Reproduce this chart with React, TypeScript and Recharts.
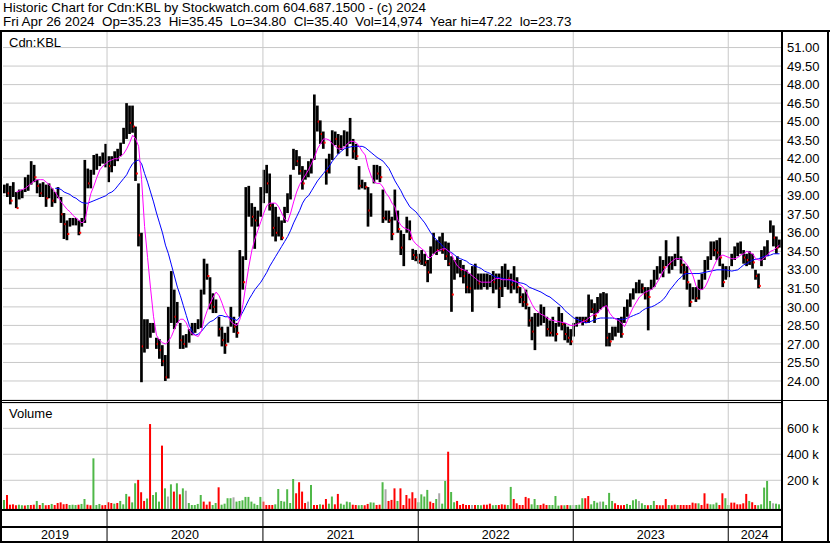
import React from "react";
import {
  Bar,
  CartesianGrid,
  Cell,
  ComposedChart,
  Line,
  ReferenceLine,
  XAxis,
  YAxis,
} from "recharts";

// weekly bars, Apr 29 2019 .. Apr 22 2024
const HI = [
  39.9, 40.0, 39.8, 40.1, 39.3, 39.5, 39.5, 40.5, 40.7, 41.8,
  41.5, 40.3, 40.0, 40.1, 39.9, 40.0, 39.6, 39.3, 39.7, 38.9,
  37.6, 37.0, 37.2, 37.2, 37.2, 37.0, 37.2, 41.9, 41.2, 41.1,
  42.3, 42.4, 42.2, 42.5, 43.2, 42.2, 42.2, 42.6, 42.8, 43.3,
  44.5, 46.5, 46.3, 46.3, 44.6, 40.0, 36.0, 29.0, 29.0, 28.7,
  28.7, 27.5, 27.4, 26.9, 26.1, 30.0, 32.9, 31.4, 30.4, 28.7,
  27.7, 27.8, 28.2, 28.7, 28.7, 29.0, 31.4, 33.9, 33.5, 32.4,
  31.1, 30.6, 29.2, 28.4, 27.9, 28.4, 30.0, 29.2, 28.7, 34.6,
  34.1, 39.7, 39.8, 38.4, 38.1, 37.8, 39.7, 41.1, 41.5, 40.8,
  38.4, 38.1, 37.3, 37.0, 38.1, 39.2, 40.7, 42.8, 42.7, 42.2,
  41.4, 41.1, 41.8, 42.0, 47.2, 46.3, 45.1, 44.2, 42.0, 42.4,
  44.3, 44.2, 44.0, 43.9, 44.3, 44.2, 45.3, 43.6, 43.2, 41.4,
  40.3, 40.1, 39.7, 39.2, 41.5, 41.5, 41.4, 39.5, 37.8, 37.8,
  37.3, 39.5, 37.8, 36.2, 35.9, 37.3, 37.0, 34.7, 34.6, 34.3,
  34.6, 34.3, 33.8, 34.9, 36.0, 35.4, 35.7, 36.0, 35.3, 35.2,
  34.1, 33.8, 34.1, 33.8, 33.4, 33.0, 32.7, 33.3, 33.5, 32.7,
  32.7, 32.7, 32.7, 32.6, 32.9, 32.7, 32.7, 33.3, 33.5, 33.0,
  32.7, 33.3, 32.4, 31.6, 31.1, 31.4, 30.0, 29.2, 29.5, 29.5,
  30.2, 30.0, 29.2, 28.9, 29.2, 28.7, 30.0, 29.5, 28.7, 28.4,
  28.2, 28.7, 29.2, 29.2, 29.2, 29.2, 31.0, 30.6, 30.3, 30.8,
  31.1, 31.2, 31.1, 27.9, 28.4, 28.4, 29.1, 29.2, 30.0, 30.6,
  31.1, 31.5, 32.0, 32.2, 31.9, 31.6, 31.6, 32.2, 33.0, 33.3,
  34.1, 33.8, 35.4, 34.1, 34.1, 34.3, 35.7, 34.1, 33.5, 33.3,
  31.9, 31.6, 31.6, 32.2, 32.7, 33.8, 34.1, 35.3, 35.3, 35.4,
  35.6, 33.5, 33.3, 33.3, 34.3, 34.9, 35.2, 35.3, 34.6, 34.3,
  34.5, 34.3, 33.0, 32.7, 34.6, 34.9, 35.4, 37.0, 36.6, 35.7,
  35.45,
];

const LO = [
  39.2, 38.9, 38.3, 38.9, 38.0, 38.7, 38.8, 39.3, 39.4, 39.9,
  40.1, 39.2, 38.9, 38.9, 38.1, 38.8, 38.1, 38.4, 38.8, 36.8,
  35.5, 35.4, 36.5, 36.6, 36.6, 35.8, 36.5, 36.8, 39.6, 39.6,
  40.7, 41.1, 41.4, 41.6, 41.3, 40.1, 40.9, 41.4, 41.8, 42.2,
  43.2, 43.6, 44.0, 44.1, 40.2, 34.9, 23.9, 26.3, 26.6, 27.5,
  27.9, 26.6, 25.8, 25.2, 24.0, 24.2, 28.7, 28.2, 28.7, 26.6,
  26.6, 26.7, 27.1, 27.7, 27.9, 28.2, 28.3, 31.0, 32.2, 29.8,
  29.5, 29.5, 27.6, 26.8, 26.2, 27.1, 28.4, 27.9, 27.5, 29.2,
  31.4, 33.8, 37.3, 36.5, 34.7, 36.5, 37.3, 38.4, 39.2, 37.8,
  35.7, 35.3, 35.7, 35.4, 36.8, 37.6, 38.7, 41.1, 41.4, 40.7,
  39.5, 40.3, 40.5, 40.8, 41.9, 44.2, 43.2, 42.8, 39.9, 40.8,
  41.9, 43.1, 42.4, 42.7, 43.0, 42.2, 43.2, 42.0, 41.9, 39.5,
  39.6, 39.5, 36.5, 37.3, 40.0, 40.3, 40.1, 36.8, 37.0, 36.8,
  35.4, 37.0, 36.0, 34.2, 33.3, 36.0, 35.4, 33.8, 33.7, 33.5,
  33.4, 33.3, 32.0, 32.7, 34.3, 34.2, 34.5, 34.3, 33.8, 33.3,
  29.6, 32.2, 32.7, 32.4, 31.9, 31.1, 31.1, 29.6, 31.4, 31.4,
  31.4, 31.6, 31.4, 31.6, 31.1, 31.4, 29.9, 30.8, 31.6, 31.4,
  31.1, 31.4, 31.1, 30.3, 30.0, 29.8, 28.4, 27.3, 26.5, 28.4,
  28.5, 28.7, 27.6, 27.6, 27.6, 27.2, 28.4, 28.1, 27.3, 27.1,
  26.9, 27.6, 28.4, 28.7, 28.5, 28.7, 28.7, 29.5, 28.7, 29.5,
  29.8, 30.0, 26.8, 26.8, 27.3, 27.6, 27.9, 27.5, 28.7, 29.2,
  30.0, 30.6, 31.1, 31.1, 31.1, 30.6, 28.1, 31.4, 31.6, 32.2,
  32.7, 32.4, 33.3, 32.7, 33.0, 33.3, 33.8, 32.7, 32.2, 31.4,
  30.0, 30.6, 30.4, 30.6, 31.4, 32.2, 33.0, 33.8, 34.1, 33.8,
  33.3, 31.6, 32.2, 32.4, 33.3, 33.8, 34.1, 34.3, 33.5, 33.3,
  33.4, 33.1, 32.2, 31.5, 33.3, 33.8, 34.1, 36.0, 34.9, 34.3,
  34.8,
];

const CL = [
  39.5, 39.2, 38.6, 39.4, 38.0, 39.1, 39.2, 40.0, 40.2, 40.8,
  40.5, 39.8, 39.2, 39.5, 38.8, 39.3, 38.6, 38.8, 39.1, 37.5,
  36.7, 35.9, 36.9, 36.9, 37.0, 36.0, 36.8, 40.5, 40.0, 40.6,
  41.6, 41.7, 41.8, 41.9, 42.9, 41.4, 41.4, 42.0, 42.4, 42.8,
  44.0, 45.5, 44.9, 44.6, 40.8, 35.8, 26.8, 27.5, 28.0, 28.2,
  28.4, 27.0, 26.5, 25.6, 24.3, 28.9, 30.0, 29.2, 30.3, 27.3,
  27.0, 27.3, 27.6, 28.3, 28.5, 28.6, 30.9, 33.2, 32.5, 30.3,
  30.0, 30.0, 28.2, 27.3, 26.9, 27.8, 29.0, 28.4, 27.9, 33.0,
  32.0, 38.0, 38.5, 37.3, 37.0, 37.4, 39.0, 40.5, 40.0, 38.2,
  36.4, 36.0, 36.2, 35.6, 37.5, 38.8, 40.2, 42.0, 41.8, 41.0,
  40.0, 40.6, 41.3, 41.6, 45.5, 45.0, 44.0, 43.3, 41.0, 42.0,
  43.8, 43.6, 43.0, 43.2, 43.6, 43.8, 44.0, 42.6, 42.2, 39.8,
  39.9, 39.7, 37.8, 39.0, 41.2, 40.8, 40.5, 37.2, 37.4, 37.0,
  35.9, 37.6, 36.3, 34.8, 35.0, 36.5, 35.6, 34.2, 34.0, 33.7,
  34.0, 33.6, 32.8, 33.2, 34.8, 34.6, 35.0, 34.6, 34.1, 33.5,
  31.0, 33.0, 33.4, 33.0, 32.5, 31.6, 31.5, 32.0, 33.2, 31.9,
  32.0, 32.1, 32.2, 32.2, 32.0, 32.4, 31.5, 32.2, 32.6, 32.3,
  31.8, 33.0, 31.6, 30.8, 30.4, 30.2, 28.9, 28.0, 28.3, 28.6,
  28.7, 29.1, 28.2, 27.9, 28.4, 27.8, 29.3, 28.6, 27.8, 27.5,
  27.2, 28.2, 28.9, 29.0, 28.9, 28.8, 30.3, 29.8, 29.3, 30.2,
  30.6, 30.8, 27.5, 27.2, 27.8, 28.0, 28.4, 27.8, 29.5, 30.0,
  30.5, 31.2, 31.6, 31.8, 31.5, 31.0, 30.8, 31.8, 32.7, 32.8,
  33.6, 33.2, 34.0, 33.5, 33.8, 33.9, 35.1, 33.4, 32.8, 32.0,
  30.4, 31.0, 30.7, 31.6, 32.2, 33.3, 33.8, 34.8, 34.6, 34.4,
  34.0, 32.0, 32.8, 33.0, 34.0, 34.6, 34.9, 35.0, 34.0, 33.8,
  33.9, 33.6, 32.5, 31.7, 34.0, 34.3, 35.2, 36.4, 35.6, 34.8,
  35.4,
];

// short moving average (magenta)
const MA_S = [
  null, null, null, null, 39.3, 39.4, 39.5, 39.6, 39.8, 40.0,
  40.2, 40.3, 40.3, 40.3, 40.1, 39.9, 39.6, 39.3, 38.9, 38.5,
  38.2, 37.9, 37.7, 37.4, 37.2, 37.0, 36.8, 37.0, 38.2, 39.2,
  39.8, 40.5, 41.1, 41.4, 41.6, 41.8, 41.9, 42.0, 42.0, 42.2,
  42.4, 42.8, 43.3, 43.9, 43.6, 43.0, 40.3, 36.5, 34.0, 31.5,
  29.2, 27.7, 27.3, 27.1, 27.0, 27.2, 27.6, 28.2, 28.7, 29.0,
  29.0, 28.7, 28.1, 27.8, 27.7, 27.6, 28.0, 29.0, 29.7, 30.3,
  30.8, 31.2, 30.9, 30.3, 29.6, 29.2, 28.8, 28.6, 28.5, 29.0,
  30.2, 31.8, 33.3, 34.6, 35.5, 36.2, 36.9, 37.6, 38.2, 38.4,
  38.4, 38.4, 38.1, 37.6, 37.1, 36.9, 37.6, 38.5, 39.3, 39.9,
  40.3, 40.7, 41.1, 41.6, 42.1, 42.8, 43.2, 43.6, 43.6, 43.5,
  43.2, 43.0, 42.8, 42.8, 42.9, 43.2, 43.4, 43.4, 43.3, 43.0,
  42.6, 42.3, 41.3, 40.6, 40.1, 40.0, 40.0, 39.7, 39.2, 38.9,
  38.4, 38.1, 37.0, 36.6, 36.4, 36.3, 36.2, 35.4, 35.1, 34.9,
  34.7, 34.5, 34.0, 34.0, 34.3, 34.5, 34.6, 34.7, 34.7, 34.5,
  34.3, 33.7, 33.3, 33.1, 33.0, 32.9, 32.7, 32.5, 32.3, 32.1,
  32.0, 32.0, 32.0, 32.0, 32.2, 32.3, 32.3, 32.2, 32.2, 32.2,
  32.2, 32.1, 32.0, 31.8, 31.6, 31.2, 30.7, 30.2, 29.8, 29.6,
  29.4, 29.3, 29.1, 29.0, 28.9, 28.85, 28.8, 28.75, 28.7, 28.6,
  28.5, 28.5, 28.6, 28.7, 28.8, 28.9, 29.1, 29.3, 29.4, 29.5,
  29.8, 30.0, 30.1, 29.5, 29.2, 29.0, 28.9, 28.7, 28.4, 28.9,
  29.5, 30.0, 30.4, 30.8, 31.0, 31.2, 31.3, 31.4, 31.6, 32.0,
  32.4, 32.9, 33.2, 33.5, 33.7, 33.9, 33.9, 33.9, 33.7, 33.4,
  33.0, 32.5, 31.7, 31.4, 31.4, 31.6, 32.1, 32.7, 33.3, 33.8,
  34.1, 34.2, 34.1, 34.0, 33.9, 33.9, 34.0, 34.2, 34.3, 34.5,
  34.4, 34.3, 33.9, 33.8, 33.8, 34.0, 34.2, 34.5, 34.6, 34.8,
  35.0,
];

// long moving average (blue)
const MA_L = [
  null, null, null, null, null, null, null, null, null, null,
  null, null, null, null, null, null, null, 39.6, 39.6, 39.5,
  39.3, 39.2, 39.1, 38.9, 38.8, 38.6, 38.45, 38.4, 38.4, 38.5,
  38.6, 38.7, 38.8, 38.9, 39.0, 39.2, 39.3, 39.5, 39.8, 40.1,
  40.4, 40.7, 41.2, 41.6, 41.8, 41.9, 41.6, 40.8, 40.1, 39.3,
  38.5, 37.6, 36.8, 36.0, 35.0, 34.3, 33.4, 32.5, 31.6, 30.9,
  30.1, 29.3, 28.5, 28.0, 27.7, 27.8, 28.0, 28.3, 28.6, 28.8,
  28.9, 29.1, 29.3, 29.3, 29.2, 29.2, 29.1, 29.0, 28.9, 29.2,
  29.6, 30.1, 30.6, 31.0, 31.4, 31.7, 32.0, 32.4, 32.8, 33.3,
  33.7, 34.1, 34.5, 34.9, 35.3, 35.7, 36.2, 36.8, 37.3, 37.8,
  38.4, 38.8, 39.0, 39.4, 39.8, 40.2, 40.5, 40.8, 41.1, 41.4,
  41.8, 42.1, 42.4, 42.6, 42.8, 42.9, 42.95, 43.0, 43.0, 43.0,
  43.0, 42.9, 42.7, 42.5, 42.3, 42.1, 41.95, 41.8, 41.5, 41.2,
  40.7, 40.2, 39.8, 39.4, 38.9, 38.5, 38.1, 37.9, 37.7, 37.4,
  37.1, 36.8, 36.4, 36.0, 35.7, 35.4, 35.2, 34.9, 34.7, 34.5,
  34.4, 34.2, 34.0, 33.9, 33.8, 33.7, 33.5, 33.4, 33.3, 33.2,
  33.1, 32.9, 32.8, 32.7, 32.5, 32.4, 32.35, 32.3, 32.25, 32.2,
  32.1, 32.05, 32.0, 31.95, 31.9, 31.8, 31.6, 31.5, 31.4, 31.3,
  31.2, 31.05, 30.9, 30.8, 30.6, 30.4, 30.2, 30.0, 29.7, 29.5,
  29.3, 29.1, 29.0, 28.9, 28.8, 28.7, 28.75, 28.85, 28.95, 29.05,
  29.1, 29.1, 29.1, 29.1, 29.1, 29.05, 29.0, 29.0, 29.0, 29.1,
  29.2, 29.3, 29.4, 29.5, 29.7, 29.85, 29.95, 30.0, 30.1, 30.25,
  30.4, 30.6, 30.9, 31.3, 31.6, 31.9, 32.2, 32.4, 32.65, 32.7,
  32.7, 32.7, 32.7, 32.7, 32.75, 32.8, 32.85, 32.9, 32.95, 33.0,
  33.0, 33.0, 33.0, 32.95, 32.9, 32.95, 33.0, 33.2, 33.4, 33.5,
  33.65, 33.8, 33.85, 33.9, 34.0, 34.1, 34.15, 34.2, 34.3, 34.3,
  34.3,
];

// volume in thousands (largest day of the week)
const VOL = [
  49, 87, 12, 15, 8, 12, 8, 6, 10, 10,
  12, 41, 10, 25, 8, 10, 18, 10, 25, 30,
  15, 18, 10, 12, 10, 12, 18, 56, 12, 8,
  369, 10, 18, 8, 10, 31, 25, 20, 25, 41,
  15, 95, 75, 30, 177, 203, 108, 41, 60, 633,
  87, 108, 36, 467, 138, 75, 169, 113, 177, 92,
  138, 120, 25, 10, 10, 18, 87, 36, 12, 36,
  10, 25, 146, 12, 20, 62, 62, 69, 36, 41,
  46, 72, 72, 36, 20, 10, 72, 36, 10, 10,
  10, 15, 133, 41, 36, 131, 25, 210, 100, 185,
  113, 25, 36, 164, 10, 10, 15, 12, 56, 20,
  75, 15, 95, 20, 12, 36, 31, 12, 10, 8,
  10, 8, 18, 30, 28, 10, 12, 185, 131, 41,
  49, 138, 41, 138, 10, 87, 60, 108, 62, 31,
  92, 75, 126, 36, 25, 56, 100, 20, 195, 420,
  110, 31, 41, 10, 18, 10, 10, 10, 10, 10,
  8, 12, 12, 20, 8, 10, 10, 15, 12, 10,
  149, 56, 23, 10, 10, 72, 62, 15, 56, 10,
  10, 20, 10, 10, 10, 79, 5, 8, 8, 10,
  8, 10, 10, 12, 62, 62, 79, 15, 41, 28,
  36, 36, 10, 103, 41, 23, 10, 8, 10, 18,
  10, 46, 54, 41, 23, 10, 8, 10, 41, 10,
  8, 8, 56, 10, 8, 12, 10, 10, 10, 10,
  10, 28, 23, 23, 10, 100, 20, 15, 15, 28,
  10, 100, 62, 10, 28, 28, 15, 15, 23, 95,
  41, 31, 10, 8, 15, 144, 195, 41, 23, 20,
  15,
];

// g = up day, r = down day, n = unchanged
const VOL_SIDE = [
  "grrrrggrgr", "rgrgrrgrrr", "rrgggrggrr", "gggrrrrgrg", "ggrggrrrgr",
  "gggrgngrgr", "gngggggrrr", "ggrggggngg", "gggggggrrr", "rgggggggrr",
  "rrngrrgrrg", "grrggggrrg", "grrggrrgnr", "rrgrrrrrrg", "gggrrgnggr",
  "ggrrrrrnrg", "grrrggrrrg", "grrrrrrggg", "rrrggggrgr", "gngggrrggg",
  "nggggrrrrg", "gggnggrggr", "rrrgrrgrrr", "rrrgrrrggg", "rrggrrrrrr",
  "grrgggggng", "g",
].join("");

const YEARS = ["2019", "2020", "2021", "2022", "2023", "2024"];
const YEAR_STARTS = [34.9, 87.2, 139.3, 191.3, 243.3]; // week position of Jan 1
const PRICE_TICKS = [24, 25.5, 27, 28.5, 30, 31.5, 33, 34.5, 36, 37.5, 39, 40.5, 42, 43.5, 45, 46.5, 48, 49.5, 51];
const VOL_TICKS = [200, 400, 600];
const PRICE_DOMAIN = [22.46, 52.34];
const VOL_DOMAIN = [-21, 795];

const TITLE = "Historic Chart for Cdn:KBL by Stockwatch.com 604.687.1500 - (c) 2024";
const QUOTE = "Fri Apr 26 2024  Op=35.23  Hi=35.45  Lo=34.80  Cl=35.40  Vol=14,974  Year hi=47.22  lo=23.73";

const N = HI.length;
const rows = HI.map((hi, i) => ({
  t: i + 0.5,
  hi,
  lo: LO[i],
  cl: CL[i],
  down: i > 0 && CL[i] < CL[i - 1],
  maS: MA_S[i],
  maL: MA_L[i],
  vol: VOL[i],
  side: VOL_SIDE[i],
}));

const bounds = [0, ...YEAR_STARTS, N];
const YEAR_MIDS = YEARS.map((_, i) => (bounds[i] + bounds[i + 1]) / 2);
const YEAR_TICKS = [...YEAR_STARTS, ...YEAR_MIDS].sort((a, b) => a - b);

const FONT = "'Liberation Sans', Arial, sans-serif";
const GRID = "#c8c8c8";
const SIDE_COLOR: Record<string, string> = { g: "#4fb848", r: "#ff0000", n: "#a8a8a8" };

function PriceBar(props: any) {
  const { x, y, width, height, payload } = props;
  if (x == null || y == null) return null;
  const top = Math.min(y, y + height);
  const h = Math.max(Math.abs(height), 1);
  const cy = top + ((payload.hi - payload.cl) / (payload.hi - payload.lo || 1)) * h;
  return (
    <g>
      <rect x={x} y={top} width={width} height={h} fill="#000" />
      {payload.down && <rect x={x + width - 1} y={cy - 1} width={2} height={2} fill="#ff0000" />}
    </g>
  );
}

function YearTick(props: any) {
  const { x, y, payload } = props;
  const k = YEAR_MIDS.indexOf(payload.value);
  if (k < 0) {
    return <line x1={x} x2={x} y1={y} y2={y + 33} stroke="#000" strokeWidth={1} />;
  }
  return (
    <text x={x} y={y + 30} textAnchor="middle" fontSize={12.5} fontFamily={FONT} fill="#000">
      {YEARS[k]}
    </text>
  );
}

const line = (left: number, top: number, width: number, height: number) => ({
  position: "absolute" as const,
  left,
  top,
  width,
  height,
  background: "#000",
});

export default function App() {
  return (
    <div
      style={{
        position: "absolute",
        left: 0,
        top: 0,
        width: 830,
        height: 543,
        background: "#fff",
        overflow: "hidden",
        fontFamily: FONT,
        color: "#000",
      }}
    >
      <div style={{ position: "absolute", left: 3, top: 1, fontSize: 13.4, lineHeight: "13.4px", whiteSpace: "pre" }}>
        {TITLE}
      </div>
      <div style={{ position: "absolute", left: 3, top: 15, fontSize: 13.4, lineHeight: "13.4px", whiteSpace: "pre" }}>
        {QUOTE}
      </div>

      <div style={{ position: "absolute", left: 0, top: 31 }}>
        <ComposedChart width={830} height={369} data={rows} margin={{ top: 0, right: 0, bottom: 0, left: 3 }}>
          <CartesianGrid vertical={false} stroke={GRID} />
          <XAxis dataKey="t" type="number" domain={[0, N]} hide allowDataOverflow />
          <YAxis
            orientation="right"
            type="number"
            domain={PRICE_DOMAIN}
            ticks={PRICE_TICKS}
            interval={0}
            allowDataOverflow
            width={49}
            axisLine={false}
            tickLine={false}
            tickSize={0}
            tickMargin={6}
            tick={{ fontSize: 13, fill: "#000", fontFamily: FONT }}
            tickFormatter={(v: number) => v.toFixed(2)}
          />
          {YEAR_STARTS.map((b) => (
            <ReferenceLine key={b} x={b} stroke={GRID} />
          ))}
          <Bar dataKey={(r: any) => [r.lo, r.hi]} barSize={3} shape={PriceBar} isAnimationActive={false} />
          <Line dataKey="maL" stroke="#0000ff" strokeWidth={1} dot={false} isAnimationActive={false} />
          <Line dataKey="maS" stroke="#ff00ff" strokeWidth={1} dot={false} isAnimationActive={false} />
        </ComposedChart>
      </div>

      <div style={{ position: "absolute", left: 0, top: 402 }}>
        <ComposedChart width={830} height={140} data={rows} margin={{ top: 1, right: 0, bottom: 0, left: 3 }}>
          <CartesianGrid vertical={false} stroke={GRID} />
          <XAxis
            dataKey="t"
            type="number"
            domain={[0, N]}
            allowDataOverflow
            ticks={YEAR_TICKS}
            interval={0}
            height={33}
            axisLine={false}
            tickLine={false}
            tickSize={0}
            tickMargin={0}
            tick={YearTick}
          />
          <YAxis
            orientation="right"
            type="number"
            domain={VOL_DOMAIN}
            ticks={VOL_TICKS}
            interval={0}
            allowDataOverflow
            width={49}
            axisLine={false}
            tickLine={false}
            tickSize={0}
            tickMargin={6}
            tick={{ fontSize: 13, fill: "#000", fontFamily: FONT }}
            tickFormatter={(v: number) => `${v} k`}
          />
          {YEAR_STARTS.map((b) => (
            <ReferenceLine key={b} x={b} stroke={GRID} />
          ))}
          <Bar dataKey={(r: any) => [VOL_DOMAIN[0], r.vol]} barSize={2} isAnimationActive={false}>
            {rows.map((r, i) => (
              <Cell key={i} fill={SIDE_COLOR[r.side]} />
            ))}
          </Bar>
        </ComposedChart>
      </div>

      <div style={{ position: "absolute", left: 9, top: 35, fontSize: 13 }}>Cdn:KBL</div>
      <div style={{ position: "absolute", left: 9, top: 406, fontSize: 13 }}>Volume</div>

      <div style={line(0, 30, 830, 2)} />
      <div style={line(0, 30, 2, 513)} />
      <div style={line(781, 30, 2, 513)} />
      <div style={line(827, 30, 2, 513)} />
      <div style={line(0, 400, 781, 1)} />
      <div style={line(0, 402, 781, 1)} />
      <div style={line(781, 400, 48, 1)} />
      <div style={line(0, 509, 781, 2)} />
      <div style={line(0, 526, 781, 2)} />
      <div style={line(0, 541, 830, 2)} />
    </div>
  );
}
